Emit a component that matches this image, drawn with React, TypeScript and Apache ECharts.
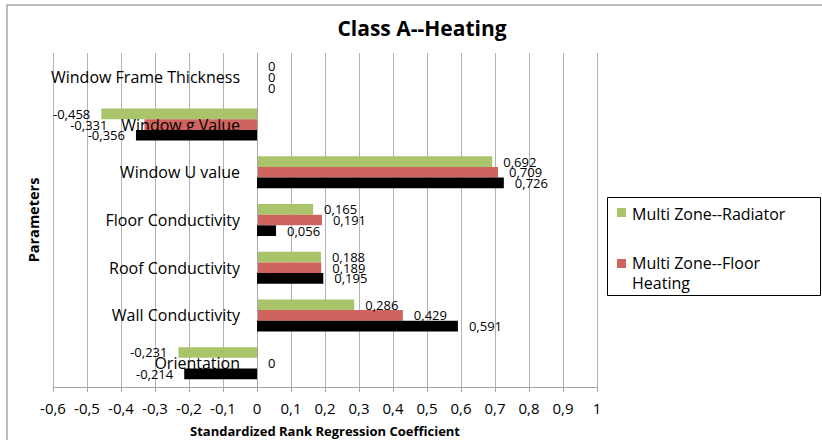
import React, { useEffect, useRef } from "react";
import * as echarts from "echarts";

const categories = [
  "Orientation",
  "Wall Conductivity",
  "Roof Conductivity",
  "Floor Conductivity",
  "Window U value",
  "Window g Value",
  "Window Frame Thickness",
];
const seriesNames = ["Multi Zone--Radiator", "Multi Zone--Floor Heating", "Series3"];
const radiator = [-0.231, 0.286, 0.188, 0.165, 0.692, -0.458, 0];
const floorHeating = [0, 0.429, 0.189, 0.191, 0.709, -0.331, 0];
const series3 = [-0.214, 0.591, 0.195, 0.056, 0.726, -0.356, 0];
const colors = ["#A9C46A", "#D0635D", "#000000"];
const xMin = -0.6;
const xMax = 1;

const FONT = "'Open Sans', 'Noto Sans', sans-serif";

const fmt = (v: number) => {
  const r = Math.round(v * 1000) / 1000;
  return String(r).replace(".", ",");
};

export default function App() {
  const ref = useRef<HTMLDivElement>(null);
  useEffect(() => {
    document.body.style.margin = "0";
    const chart = echarts.init(ref.current!, null, { renderer: "svg" });
    // label of the "Floor Heating" bar at "Window g Value" is pushed further out (as in the original)
    const mk = (vals: number[], si: number) =>
      vals.map((v, ci) => ({
        value: v,
        label: {
          position: v < 0 ? "left" : "right",
          distance: si === 1 && categories[ci] === "Window g Value" ? 37 : 11,
        },
      }));
    const all = [radiator, floorHeating, series3];
    const gridLeft = 53;
    const gridRight = 225;
    const plotW = 822 - gridLeft - gridRight;
    const zeroOffset = ((0 - xMin) / (xMax - xMin)) * plotW;
    chart.setOption({
      animation: false,
      backgroundColor: "#ffffff",
      title: {
        text: "Class A--Heating",
        left: 417,
        top: 12,
        textAlign: "center",
        textStyle: { fontFamily: FONT, fontSize: 21, fontWeight: "bold", color: "#000" },
      },
      grid: {
        left: gridLeft,
        right: gridRight,
        top: 53,
        bottom: 53,
        containLabel: false,
        outerBoundsMode: "none",
      },
      xAxis: {
        type: "value",
        min: xMin,
        max: xMax,
        interval: 0.1,
        name: "Standardized Rank Regression Coefficient",
        nameLocation: "middle",
        nameGap: 37,
        nameTextStyle: { fontFamily: FONT, fontSize: 13, fontWeight: "bold", color: "#000" },
        axisLine: { show: true, lineStyle: { color: "#a6a6a6" } },
        axisTick: { show: true, length: 5, lineStyle: { color: "#a6a6a6" } },
        splitLine: { show: true, lineStyle: { color: "#b3b3b3", width: 1 } },
        axisLabel: {
          margin: 13,
          fontFamily: FONT,
          fontSize: 15,
          color: "#000",
          formatter: (v: number) => String(Math.round(v * 10) / 10).replace(".", ","),
        },
      },
      yAxis: {
        type: "category",
        data: categories,
        position: "left",
        offset: -zeroOffset,
        z: 2,
        axisLine: { show: true, onZero: false, lineStyle: { color: "#a6a6a6" } },
        axisTick: { show: false },
        axisLabel: { margin: 17, fontFamily: FONT, fontSize: 16, color: "#000" },
      },
      graphic: [
        {
          type: "rect",
          shape: { x: 7, y: 5, width: 900, height: 500 },
          style: { fill: "none", stroke: "#a6a6a6", lineWidth: 1.5 },
          silent: true,
          z: -10,
        },
        {
          type: "text",
          x: 33,
          y: 220,
          rotation: Math.PI / 2,
          style: {
            text: "Parameters",
            font: `bold 14.5px ${FONT}`,
            fill: "#000",
            align: "center",
            verticalAlign: "middle",
          },
        },
        {
          type: "rect",
          shape: { x: 607.5, y: 197.5, width: 213, height: 98 },
          style: { fill: "#fff", stroke: "#000", lineWidth: 1 },
        },
        {
          type: "rect",
          shape: { x: 617, y: 208, width: 9, height: 9 },
          style: { fill: colors[0] },
        },
        {
          type: "text",
          x: 632,
          y: 214,
          style: {
            text: seriesNames[0],
            font: `16px ${FONT}`,
            fill: "#000",
            verticalAlign: "middle",
          },
        },
        {
          type: "rect",
          shape: { x: 617, y: 259, width: 9, height: 9 },
          style: { fill: colors[1] },
        },
        {
          type: "text",
          x: 632,
          y: 263,
          style: {
            text: "Multi Zone--Floor",
            font: `16px ${FONT}`,
            fill: "#000",
            verticalAlign: "middle",
          },
        },
        {
          type: "text",
          x: 632,
          y: 283,
          style: {
            text: "Heating",
            font: `16px ${FONT}`,
            fill: "#000",
            verticalAlign: "middle",
          },
        },
      ],
      series: all.map((vals, i) => ({
        type: "bar",
        name: seriesNames[i],
        data: mk(vals, i),
        barGap: "0%",
        barCategoryGap: "33%",
        z: i === 2 ? 3 : 1,
        itemStyle: { color: colors[i] },
        label: {
          show: true,
          fontFamily: FONT,
          fontSize: 13,
          color: "#000",
          formatter: (p: any) => fmt(p.value),
        },
      })),
    });
    return () => chart.dispose();
  }, []);
  return <div ref={ref} style={{ width: 822, height: 440 }} />;
}
